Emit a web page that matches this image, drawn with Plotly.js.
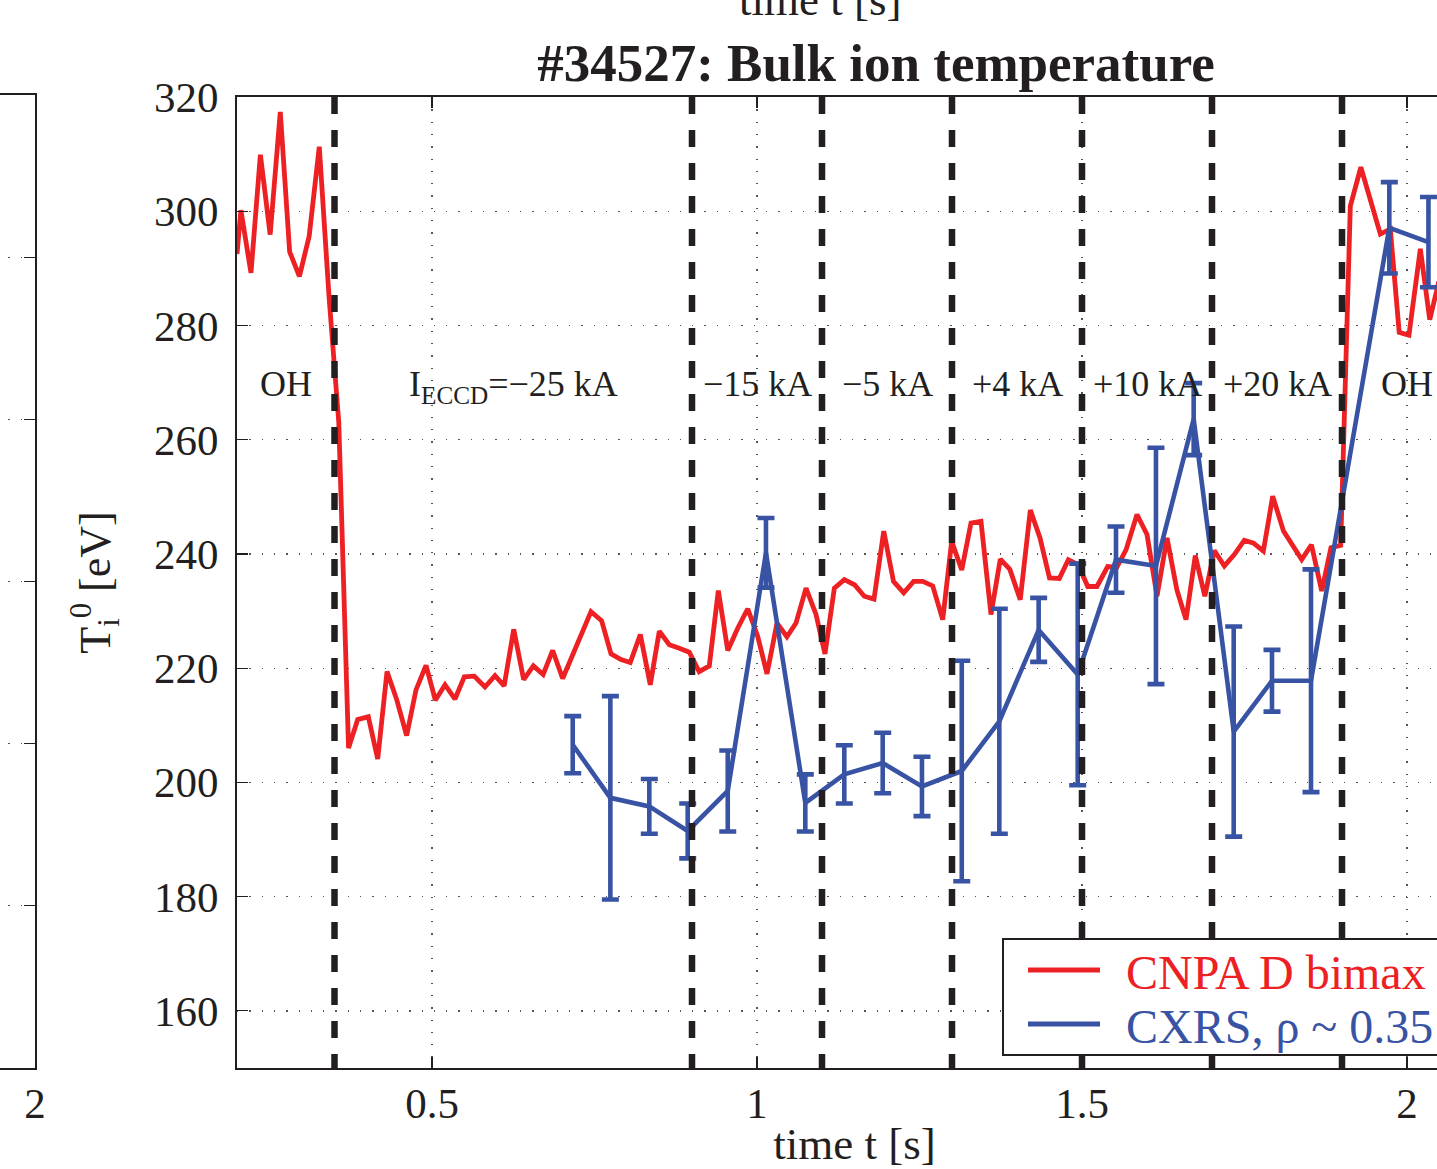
<!DOCTYPE html>
<html>
<head>
<meta charset="utf-8">
<script src="https://cdn.plot.ly/plotly-3.0.1.min.js"></script>
<style>
html,body{margin:0;padding:0;overflow:hidden;background:#fff;width:1437px;height:1169px;}
#chart{position:absolute;left:-300px;top:0;}
</style>
</head>
<body>
<div id="chart"></div>
<script>
// ---- data ----
const cnpaTime = [0.200,0.206,0.2215,0.236,0.251,0.2666,0.281,0.296,0.311,0.3266,0.3416,0.3566,0.3716,0.3857,0.402,0.4165,0.4308,0.4457,0.461,0.4754,0.4908,0.5051,0.52,0.5354,0.5497,0.565,0.5815,0.597,0.611,0.6257,0.641,0.656,0.671,0.6857,0.701,0.7446,0.761,0.7754,0.7908,0.805,0.8205,0.8358,0.8497,0.865,0.8805,0.8958,0.911,0.9266,0.9405,0.955,0.9703,0.9857,1.001,1.0154,1.0308,1.046,1.06,1.0754,1.0908,1.1046,1.119,1.1343,1.15,1.165,1.18,1.195,1.21,1.2257,1.241,1.255,1.2703,1.2857,1.2995,1.315,1.3292,1.3446,1.36,1.3743,1.389,1.405,1.4205,1.4354,1.45,1.4651,1.479,1.4943,1.5088,1.523,1.5395,1.5538,1.5677,1.5846,1.6,1.6154,1.6308,1.646,1.66,1.6743,1.689,1.7036,1.719,1.7343,1.7497,1.764,1.779,1.7934,1.81,1.824,1.838,1.853,1.8688,1.883,1.898,1.9128,1.929,1.959,1.9743,1.988,2.003,2.0205,2.035,2.049];
const cnpaTi = [292.5,300.2,289.2,309.9,295.9,317.4,292.9,288.6,295.6,311.3,285.0,263.0,206.0,211.0,211.5,204.1,219.4,214.5,208.2,216.2,220.5,214.4,217.1,214.6,218.5,218.6,216.7,218.7,216.9,226.8,218.0,220.4,218.9,223.1,218.2,229.9,228.3,222.5,221.5,221.0,225.9,217.1,226.5,224.1,223.5,222.8,219.4,220.4,233.6,223.1,227.0,230.4,225.6,219.0,227.9,225.5,227.9,234.0,229.4,222.5,234.0,235.5,234.6,232.6,232.1,244.0,235.2,233.2,235.2,235.2,234.4,228.5,242.2,237.2,245.4,245.7,229.4,239.1,237.3,232.0,247.7,242.8,235.8,235.7,239.0,238.1,234.3,234.3,237.8,237.7,240.7,246.9,243.4,232.6,242.8,233.7,228.5,239.7,232.6,240.6,237.9,239.9,242.4,241.9,240.5,250.1,244.0,241.4,239.0,241.6,233.5,241.1,241.5,300.9,307.7,296.0,296.9,278.8,278.3,293.4,281.0,287.7];

const cxrsTime = [0.7165,0.7744,0.8343,0.8934,0.955,1.0138,1.0743,1.1343,1.1934,1.2538,1.315,1.3728,1.4333,1.4934,1.5523,1.6138,1.6718,1.7334,1.7923,1.8523,1.9728,2.033];
const cxrsTi   = [206.6,197.3,195.8,191.5,198.5,240.2,196.4,201.4,203.4,199.3,202.0,210.7,226.7,218.9,239.0,237.9,263.6,208.9,217.8,217.8,297.1,294.6];
const cxrsErr  = [5.0,17.8,4.8,4.8,7.1,6.1,5.0,5.1,5.3,5.2,19.3,19.7,5.6,19.4,5.8,20.7,6.3,18.4,5.4,19.5,8.0,7.9];

const phaseBounds = [0.2,0.35,0.9,1.1,1.3,1.5,1.7,1.9,2.1];
const phaseLabels = ['OH','I<sub>ECCD</sub>=\u221225 kA','\u221215 kA','\u22125 kA','+4 kA','+10 kA','+20 kA','OH'];

const xTicks = [0.5,1,1.5,2];
const xTickLabels = ['0.5','1','1.5','2'];
const yTicks = [160,180,200,220,240,260,280,300,320];

const seriesNames = ['CNPA D bimax','CXRS, \u03c1 ~ 0.35'];

// ---- styling / layout ----
const RED = '#ED2024', BLUE = '#3953A4', INK = '#231f20';
const FONT = 'Liberation Serif, Times New Roman, serif';
const OFF = 300, W = 1800, H = 1169;
const px = p => (p + OFF) / W;
const py = p => 1 - p / H;

const traces = [
  {x: cnpaTime, y: cnpaTi, type: 'scatter', mode: 'lines', name: seriesNames[0],
   line: {color: RED, width: 4.8}, xaxis: 'x', yaxis: 'y'},
  {x: cxrsTime, y: cxrsTi, type: 'scatter', mode: 'lines', name: seriesNames[1],
   line: {color: BLUE, width: 4.6},
   error_y: {type: 'data', array: cxrsErr, visible: true, color: BLUE, thickness: 4.6, width: 8.5},
   xaxis: 'x', yaxis: 'y'},
  {x: [], y: [], xaxis: 'x2', yaxis: 'y2', type: 'scatter', mode: 'lines', showlegend: false}
];

// phase boundaries (dashed)
const shapes = phaseBounds.slice(1, -1).map(t => ({
  type: 'line', xref: 'x', yref: 'paper', x0: t, x1: t, y0: py(97), y1: py(1068),
  line: {color: INK, width: 6.5, dash: '17px,16px'}, layer: 'above'
}));

// legend box (drawn over the dashed lines, as in the reference)
const legendColors = [RED, BLUE];
const legendRows = [970, 1024];
shapes.push({type: 'rect', xref: 'paper', yref: 'paper', x0: px(1003), x1: px(1500),
  y0: py(939), y1: py(1055), fillcolor: '#fff', line: {color: INK, width: 2}, layer: 'above'});
legendRows.forEach((r, i) => shapes.push({type: 'line', xref: 'paper', yref: 'paper',
  x0: px(1028), x1: px(1100), y0: py(r), y1: py(r),
  line: {color: legendColors[i], width: 5}, layer: 'above'}));

const annotations = phaseLabels.map((lab, i) => ({
  xref: 'x', yref: 'paper', x: (phaseBounds[i] + phaseBounds[i+1]) / 2, y: py(362),
  xanchor: 'center', yanchor: 'top', text: lab, showarrow: false,
  font: {family: FONT, size: 36, color: INK}
}));
legendRows.forEach((r, i) => annotations.push({
  xref: 'paper', yref: 'paper', x: px(1124), y: py(r + 2), xanchor: 'left', yanchor: 'middle',
  text: seriesNames[i], showarrow: false, font: {family: FONT, size: 48, color: legendColors[i]}
}));
// x-label of the panel above, cropped at the top edge
annotations.push({
  xref: 'paper', yref: 'paper', x: px(820), y: py(27), xanchor: 'center', yanchor: 'bottom',
  text: 'time t [s]', showarrow: false, font: {family: FONT, size: 45, color: INK}
});

const axisCommon = {
  showline: true, linecolor: INK, linewidth: 2, ticks: 'inside', ticklen: 11, tickwidth: 1.2,
  tickcolor: INK, mirror: 'ticks', zeroline: false, showgrid: true, gridcolor: '#555',
  gridwidth: 1.3, griddash: '1.3px,11px', tickfont: {family: FONT, size: 43, color: INK}
};

const layout = {
  width: W, height: H, margin: {l: 0, r: 0, t: 0, b: 0},
  paper_bgcolor: '#fff', plot_bgcolor: 'rgba(0,0,0,0)',
  font: {family: FONT, color: INK},
  title: {text: '<b>#34527: Bulk ion temperature</b>', xref: 'paper', yref: 'paper',
          x: px(876), xanchor: 'center', y: py(62), yanchor: 'middle',
          font: {family: FONT, size: 53, color: INK, weight: 'bold'}},
  xaxis: Object.assign({}, axisCommon, {
    domain: [px(237), px(1472)], range: [phaseBounds[0], phaseBounds[phaseBounds.length-1]],
    tickvals: xTicks, ticktext: xTickLabels, anchor: 'y', ticklabelstandoff: -4,
    title: {text: 'time t [s]', font: {family: FONT, size: 45, color: INK}, standoff: 24}
  }),
  yaxis: Object.assign({}, axisCommon, {
    domain: [py(1068), py(97)], range: [150, 320], tickvals: yTicks, anchor: 'x',
    ticklabelstandoff: 8,
    title: {text: 'T<sub>i</sub><sup>0</sup> [eV]', font: {family: FONT, size: 44, color: INK}, standoff: 30}
  }),
  xaxis2: Object.assign({}, axisCommon, {
    domain: [px(-250), px(35)], range: [1.6, 2], tickvals: [2], ticktext: ['2'], anchor: 'y2',
    showgrid: false, ticklabelstandoff: -4
  }),
  yaxis2: Object.assign({}, axisCommon, {
    domain: [py(1068), py(95)], range: [0, 6], dtick: 1, anchor: 'x2', showticklabels: false
  }),
  shapes: shapes,
  annotations: annotations,
  showlegend: false
};

Plotly.newPlot('chart', traces, layout, {displayModeBar: false, staticPlot: true});
</script>
</body>
</html>
